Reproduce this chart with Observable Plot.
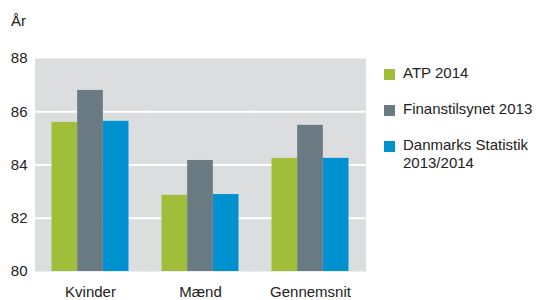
<!DOCTYPE html>
<html>
<head>
<meta charset="utf-8">
<script src="https://cdn.jsdelivr.net/npm/d3@7"></script>
<script src="https://cdn.jsdelivr.net/npm/@observablehq/plot@0.6"></script>
<style>
  html, body { margin: 0; padding: 0; background: #fff; }
  #wrap { position: relative; width: 541px; height: 300px; font-family: "Liberation Sans", Arial, sans-serif; color: #222; }
  #wrap svg { position: absolute; left: 0; top: 0; }
  .lbl { position: absolute; font-size: 15px; line-height: 18px; white-space: nowrap; }
  .sw { position: absolute; width: 11px; height: 11px; }
</style>
</head>
<body>
<div id="wrap"></div>
<script>
const groups = ["Kvinder", "Mænd", "Gennemsnit"];
const seriesNames = ["ATP 2014", "Finanstilsynet 2013", "Danmarks Statistik 2013/2014"];
const legendLines = [["ATP 2014"], ["Finanstilsynet 2013"], ["Danmarks Statistik", "2013/2014"]];
const atp2014 = [85.6, 82.86, 84.25];
const finanstilsynet2013 = [86.8, 84.17, 85.49];
const danmarksStatistik = [85.64, 82.89, 84.25];
const yTicks = [80, 82, 84, 86, 88];
const gridTicks = [82, 84, 86];
const colors = ["#a1be3a", "#6a7a82", "#0091d0"];
const yLabel = "År";

const seriesValues = [atp2014, finanstilsynet2013, danmarksStatistik];
const data = [];
groups.forEach((g, gi) => {
  seriesNames.forEach((s, si) => {
    data.push({group: g, series: s, value: seriesValues[si][gi]});
  });
});

const yMin = yTicks[0];
const chart = Plot.plot({
  width: 541,
  height: 300,
  marginLeft: 34,
  marginRight: 175,
  marginTop: 58,
  marginBottom: 29,
  style: {fontFamily: '"Liberation Sans", Arial, sans-serif', fontSize: "15px", color: "#222", background: "transparent"},
  facet: {data, x: "group"},
  fx: {domain: groups, paddingInner: 0.3, paddingOuter: 0.159, round: false, axis: "bottom", tickSize: 0, tickPadding: 15, label: null},
  x: {domain: seriesNames, padding: 0, round: false, axis: null},
  y: {domain: [yTicks[0], yTicks[yTicks.length - 1]], axis: null, label: null},
  color: {domain: seriesNames, range: colors},
  marks: [
    Plot.frame({fill: "#dcdddf", stroke: null, insetLeft: -17, insetRight: -17}),
    Plot.ruleY(gridTicks, {stroke: "#ffffff", strokeWidth: 2, insetLeft: -17, insetRight: -17}),
    Plot.barY(data, {x: "series", y1: () => yMin, y2: "value", fill: "series", inset: 0}),
    Plot.axisY(yTicks, {tickSize: 0, tickPadding: 24.5, label: null, tickFormat: d => String(d)})
  ]
});
const wrap = document.getElementById("wrap");
wrap.appendChild(chart);

const yl = document.createElement("div");
yl.className = "lbl";
yl.style.left = "11px";
yl.style.top = "12px";
yl.textContent = yLabel;
wrap.appendChild(yl);

const legendTops = [64, 100, 136];
legendLines.forEach((lines, i) => {
  const sw = document.createElement("div");
  sw.className = "sw";
  sw.style.left = "384px";
  sw.style.top = (legendTops[i] + 5) + "px";
  sw.style.background = colors[i];
  wrap.appendChild(sw);
  const t = document.createElement("div");
  t.className = "lbl";
  t.style.left = "403px";
  t.style.top = legendTops[i] + "px";
  t.innerHTML = lines.join("<br>");
  wrap.appendChild(t);
});
</script>
</body>
</html>
